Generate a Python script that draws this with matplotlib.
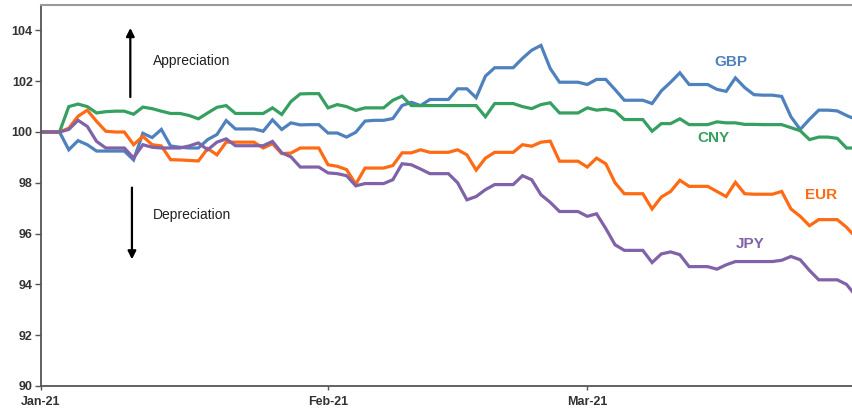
import numpy as np
import pandas as pd
import matplotlib
matplotlib.use("Agg")
import matplotlib.pyplot as plt
import matplotlib.dates as mdates

plt.rcParams['font.family'] = ['Liberation Sans', 'DejaVu Sans']

# daily index values, 1 Jan 2021 = 100
dates = pd.date_range("2021-01-01", periods=89, freq="D")

gbp = [100, 100, 100, 99.3, 99.66, 99.5, 99.25, 99.25, 99.25, 99.25,
       98.9, 99.95, 99.78, 100.1, 99.45, 99.4, 99.37, 99.37, 99.7, 99.9,
       100.45, 100.12, 100.12, 100.12, 100.03, 100.48, 100.1, 100.36, 100.28, 100.29,
       100.29, 99.96, 99.96, 99.8, 99.99, 100.43, 100.46, 100.46, 100.53, 101.04,
       101.17, 101.04, 101.28, 101.28, 101.28, 101.7, 101.7, 101.35, 102.2, 102.53,
       102.53, 102.53, 102.9, 103.22, 103.41, 102.5, 101.96, 101.96, 101.96, 101.87,
       102.07, 102.07, 101.67, 101.25, 101.25, 101.25, 101.12, 101.62, 101.96, 102.33,
       101.87, 101.87, 101.87, 101.68, 101.6, 102.13, 101.75, 101.47, 101.45, 101.45,
       101.4, 100.6, 100.1, 100.5, 100.86, 100.86, 100.83, 100.65, 100.5]

cny = [100, 100, 100, 101.0, 101.1, 101.0, 100.75, 100.8, 100.82, 100.82,
       100.7, 100.98, 100.92, 100.82, 100.73, 100.73, 100.65, 100.52, 100.75, 100.97,
       101.04, 100.73, 100.73, 100.73, 100.73, 100.95, 100.69, 101.2, 101.5, 101.51,
       101.51, 100.95, 101.08, 101.0, 100.85, 100.95, 100.95, 100.95, 101.25, 101.41,
       101.04, 101.04, 101.04, 101.04, 101.04, 101.04, 101.04, 101.04, 100.6, 101.12,
       101.12, 101.12, 101.0, 100.92, 101.08, 101.15, 100.75, 100.75, 100.75, 100.95,
       100.86, 100.9, 100.82, 100.49, 100.49, 100.49, 100.03, 100.33, 100.33, 100.52,
       100.29, 100.29, 100.29, 100.4, 100.36, 100.36, 100.3, 100.3, 100.29, 100.29,
       100.29, 100.17, 100.05, 99.7, 99.8, 99.8, 99.75, 99.37, 99.37]

eur = [100, 100, 100, 100.15, 100.62, 100.86, 100.42, 100.03, 100.0, 100.0,
       99.5, 99.83, 99.5, 99.45, 98.91, 98.9, 98.88, 98.86, 99.35, 99.1,
       99.6, 99.6, 99.6, 99.6, 99.37, 99.54, 99.15, 99.17, 99.37, 99.37,
       99.37, 98.71, 98.65, 98.52, 97.95, 98.58, 98.58, 98.58, 98.68, 99.18,
       99.18, 99.3, 99.2, 99.2, 99.2, 99.3, 99.1, 98.5, 98.97, 99.2,
       99.2, 99.2, 99.5, 99.44, 99.6, 99.64, 98.85, 98.85, 98.85, 98.62,
       98.97, 98.75, 98.0, 97.57, 97.57, 97.57, 96.97, 97.44, 97.66, 98.1,
       97.86, 97.86, 97.86, 97.66, 97.46, 98.02, 97.57, 97.55, 97.55, 97.55,
       97.66, 96.97, 96.68, 96.31, 96.55, 96.55, 96.55, 96.25, 95.85]

jpy = [100, 100, 100, 100.1, 100.46, 100.22, 99.63, 99.37, 99.37, 99.37,
       98.98, 99.5, 99.4, 99.37, 99.37, 99.37, 99.45, 99.57, 99.3, 99.6,
       99.73, 99.46, 99.46, 99.46, 99.46, 99.63, 99.18, 99.02, 98.62, 98.62,
       98.62, 98.39, 98.36, 98.28, 97.88, 97.97, 97.97, 97.97, 98.12, 98.75,
       98.71, 98.54, 98.36, 98.36, 98.36, 98.0, 97.33, 97.46, 97.73, 97.93,
       97.93, 97.93, 98.28, 98.12, 97.53, 97.23, 96.87, 96.87, 96.87, 96.68,
       96.78, 96.2, 95.56, 95.34, 95.34, 95.34, 94.86, 95.2, 95.28, 95.17,
       94.7, 94.7, 94.7, 94.6, 94.77, 94.9, 94.9, 94.9, 94.9, 94.9,
       94.95, 95.1, 94.97, 94.55, 94.18, 94.18, 94.18, 94.0, 93.55]

series = ["GBP", "CNY", "EUR", "JPY"]
colors = ["#4F81BD", "#36A060", "#FF6A13", "#7F62A8"]
yticks = [90, 92, 94, 96, 98, 100, 102, 104]


def main():
    fig = plt.figure(figsize=(8.53, 4.13), dpi=100)
    ax = fig.add_axes([41 / 853, 1 - 386 / 413, 1 - 41 / 853, (386 - 5) / 413])

    for vals, c in zip([gbp, cny, eur, jpy], colors):
        ax.plot(dates, vals, color=c, linewidth=2.3, solid_joinstyle="miter")

    ax.set_ylim(90, 105)
    ax.set_yticks(yticks)
    ax.set_xlim(dates[0], dates[0] + pd.Timedelta(days=87.7))
    ax.xaxis.set_major_locator(mdates.MonthLocator())
    ax.xaxis.set_major_formatter(mdates.DateFormatter("%b-%y"))

    for lab in ax.get_xticklabels() + ax.get_yticklabels():
        lab.set_fontweight("bold")
        lab.set_fontsize(9)
        lab.set_color("#333333")
    ax.tick_params(axis="y", length=4, width=1, pad=2, color="#555555")
    ax.tick_params(axis="x", length=3, width=1, pad=4, color="#555555")

    ax.spines["right"].set_visible(False)
    ax.spines["top"].set_color("#999999")
    ax.spines["top"].set_linewidth(1.5)
    for s in ["left", "bottom"]:
        ax.spines[s].set_color("#555555")
        ax.spines[s].set_linewidth(1.3)

    # appreciation / depreciation arrows
    ax.annotate("", xy=(0.110, 0.947), xytext=(0.110, 0.751), xycoords="axes fraction",
                arrowprops=dict(arrowstyle="-|>", color="black", lw=1.6, mutation_scale=12))
    ax.annotate("", xy=(0.112, 0.325), xytext=(0.112, 0.528), xycoords="axes fraction",
                arrowprops=dict(arrowstyle="-|>", color="black", lw=1.6, mutation_scale=12))
    ax.text(0.138, 0.853, "Appreciation", transform=ax.transAxes, fontsize=10,
            va="center", ha="left", color="#222222")
    ax.text(0.138, 0.449, "Depreciation", transform=ax.transAxes, fontsize=10,
            va="center", ha="left", color="#222222")

    # series labels
    label_pos = [(0.849, 0.850), (0.828, 0.651), (0.961, 0.501), (0.873, 0.373)]
    for name, c, (lx, ly) in zip(series, colors, label_pos):
        ax.text(lx, ly, name, transform=ax.transAxes, color=c, fontsize=11,
                fontweight="bold", ha="center", va="center")

    fig.savefig("out.png", dpi=100)


if __name__ == "__main__":
    main()
